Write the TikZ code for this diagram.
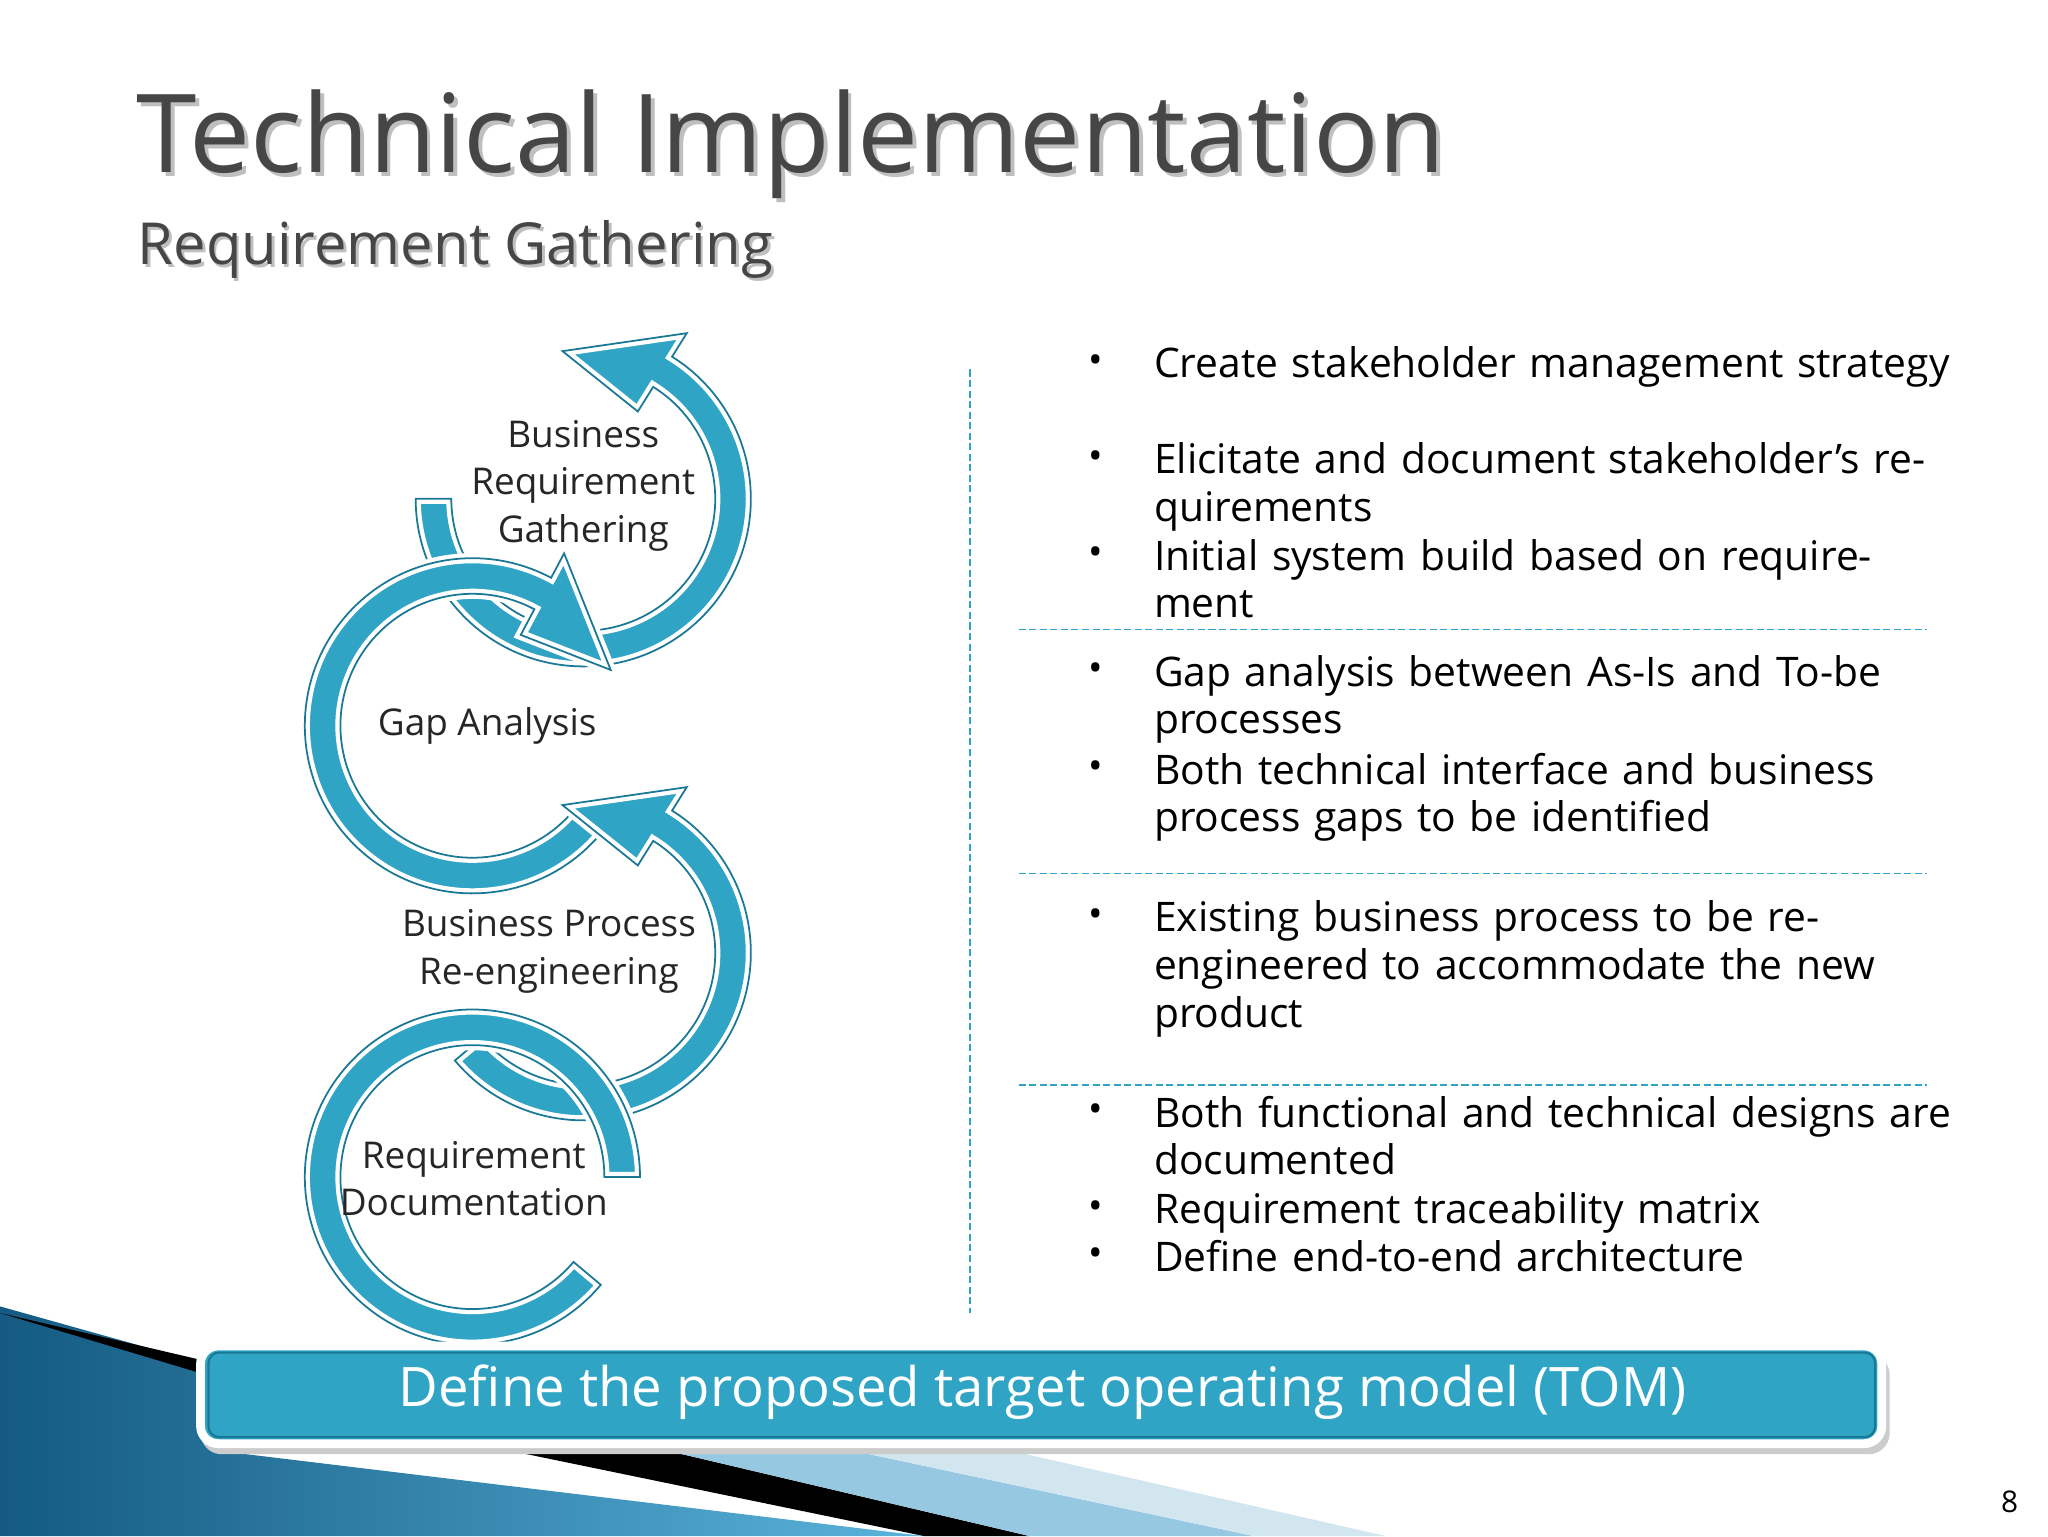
\documentclass[tikz,border=0pt]{standalone}
\usepackage{fontspec}
\setmainfont{Open Sans}
\definecolor{teal1}{RGB}{47,164,196}
\definecolor{tealD}{RGB}{25,120,150}
\definecolor{ttl}{RGB}{70,70,70}
\definecolor{bgA}{RGB}{20,90,130}
\definecolor{bgB}{RGB}{90,180,220}
\definecolor{bgC}{RGB}{150,200,225}
\definecolor{bgD}{RGB}{210,230,240}
\begin{document}
\begin{tikzpicture}[x=0.0132cm,y=-0.0132cm,
  band/.style={fill=teal1,draw=white,line width=1.2pt,double=tealD,double distance=0.5pt},
  lbl/.style={font=\fontsize{10.5}{13.5}\selectfont,align=center,text=black!85},
  bul/.style={font=\fontsize{11.6}{13.6}\selectfont,text width=228pt,align=left,anchor=north west,inner sep=0pt},
  dot/.style={font=\fontsize{11}{13}\selectfont,anchor=north,inner sep=0pt},
  sep/.style={draw=teal1,line width=0.5pt,dash pattern=on 2pt off 1pt}]
\useasboundingbox (0,0) rectangle (1552,1164);
\fill[white] (0,0) rectangle (1552,1164);
% bottom-left decoration
\shade[left color=bgA,right color=bgB]
 (0,990) -- (150,1032) -- (170,1100) -- (700,1164) -- (0,1164) -- cycle;
\fill[black] (0,995) -- (150,1030) -- (150,1040) -- cycle;
\fill[black] (380,1098) -- (500,1098) -- (780,1164) -- (700,1164) -- cycle;
\fill[bgC] (500,1098) -- (640,1098) -- (950,1164) -- (780,1164) -- cycle;
\fill[bgD] (640,1098) -- (760,1098) -- (1050,1164) -- (950,1164) -- cycle;
% title
\node[anchor=west,text=black!25,font=\fontsize{31}{36}\selectfont] at (97,112) {Technical Implementation};
\node[anchor=west,text=ttl,font=\fontsize{31}{36}\selectfont] (title) at (94,109) {Technical Implementation};
\node[anchor=west,text=black!25,font=\fontsize{16.5}{20}\selectfont] at (97,191) {Requirement Gathering};
\node[anchor=west,text=ttl,font=\fontsize{16.5}{20}\selectfont] (sub) at (95,189) {Requirement Gathering};
% arrow 1 (clockwise)
\begin{scope}[shift={(442,378)}]
\draw[band] (180:127) arc[start angle=180,end angle=-58,radius=127] -- (-58:148) -- (-98:113) -- (-58:78) -- (-58:100) arc[start angle=-58,end angle=180,radius=100] -- cycle;
\end{scope}
% arrow 2 (counterclockwise)
\begin{scope}[shift={(358,550)}]
\draw[band] (40:127) arc[start angle=40,end angle=298,radius=127] -- (298:148) -- (338:113) -- (298:78) -- (298:100) arc[start angle=298,end angle=40,radius=100] -- cycle;
\end{scope}
% arrow 3 (clockwise)
\begin{scope}[shift={(442,722)}]
\draw[band] (140:127) arc[start angle=140,end angle=-58,radius=127] -- (-58:148) -- (-98:113) -- (-58:78) -- (-58:100) arc[start angle=-58,end angle=140,radius=100] -- cycle;
\end{scope}
% arrow 4 (counterclockwise, no head)
\begin{scope}[shift={(358,892)}]
\draw[band] (40:127) arc[start angle=40,end angle=360,radius=127] -- (0:100) arc[start angle=360,end angle=40,radius=100] -- cycle;
\end{scope}
\node[lbl] (l1) at (442,368) {Business\\Requirement\\Gathering};
\node[lbl,anchor=west] (l2) at (277,550) {Gap Analysis};
\node[lbl] (l3) at (416,721) {Business Process\\Re-engineering};
\node[lbl] (l4) at (359,893) {Requirement\\Documentation};
% separators
\draw[sep] (735,280) -- (735,995);
\draw[sep] (772,477) -- (1460,477);
\draw[sep] (772,662) -- (1460,662);
\draw[sep] (772,822) -- (1460,822);
% bullets
\foreach \y in {264,337,410,498,572,684,832,905,941} \node[dot] at (830,\y+4) {•};
\node[bul] (b1) at (874,262) {Create stakeholder management strategy};
\node[bul] (b2) at (874,335) {Elicitate and document stakeholder’s requirements};
\node[bul] (b3) at (874,408) {Initial system build based on requirement};
\node[bul] (b4) at (874,496) {Gap analysis between As-Is and To-be processes};
\node[bul] (b5) at (874,570) {Both technical interface and business process gaps to be identified};
\node[bul] (b6) at (874,682) {Existing business process to be re-engineered to accommodate the new product};
\node[bul] (b7) at (874,830) {Both functional and technical designs are documented};
\node[bul] (b8) at (874,903) {Requirement traceability matrix};
\node[bul] (b9) at (874,939) {Define end-to-end architecture};
% banner
\fill[black!20,rounded corners=6pt] (152,1026) rectangle (1432,1102);
\draw[fill=teal1,draw=white,line width=2.5pt,rounded corners=5pt] (152,1020) rectangle (1426,1094);
\draw[tealD,line width=0.6pt,rounded corners=3pt] (158,1025) rectangle (1421,1089);
\node[text=white,font=\fontsize{15.5}{18}\selectfont] (tom) at (790,1055) {Define the proposed target operating model (TOM)};
\node[font=\fontsize{8.5}{10}\selectfont] (pg) at (1523,1138) {8};
\end{tikzpicture}
\end{document}
